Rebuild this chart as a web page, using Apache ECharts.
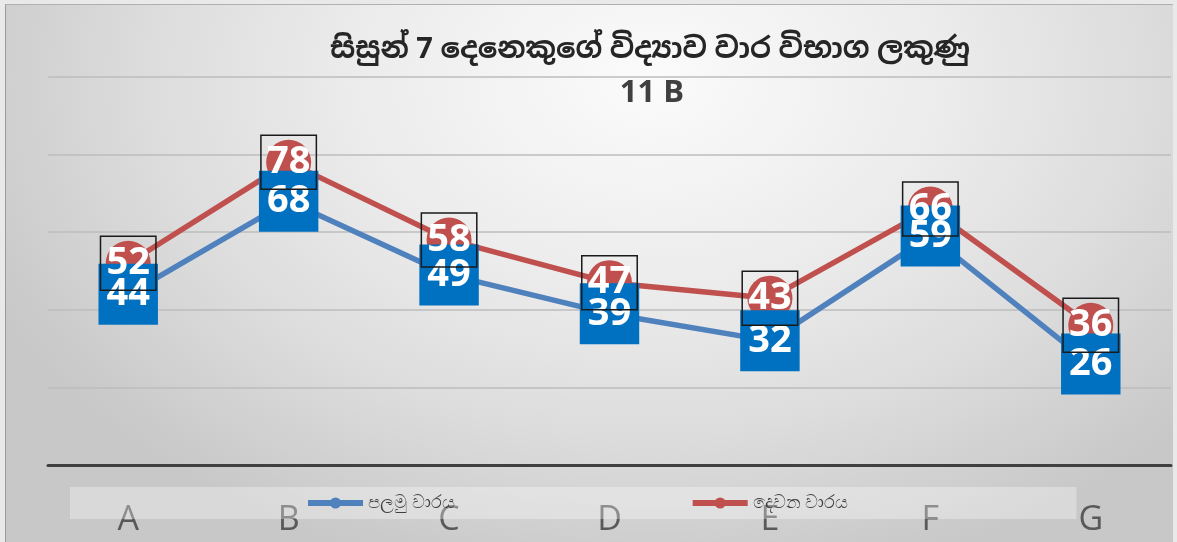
<!DOCTYPE html>
<html>
<head>
<meta charset="utf-8">
<title>සිසුන් 7 දෙනෙකුගේ විද්‍යාව වාර විභාග ලකුණු</title>
<script src="https://cdn.jsdelivr.net/npm/echarts@6/dist/echarts.min.js"></script>
<style>
  html, body { margin: 0; padding: 0; background: #e9e9e9; }
  #panel {
    position: absolute; left: 5px; top: 4px; width: 1167px; height: 538px;
    border-left: 1px solid #9a9a9a; border-top: 1px solid #b0b0b0;
    background: radial-gradient(ellipse 62% 95% at 55% 14%, #fbfbfb 0%, #ececec 40%, #dcdcdc 70%, #c8c8c8 100%);
  }
  #chart { position: absolute; left: 0; top: 0; width: 1177px; height: 542px; }
</style>
</head>
<body>
<div id="panel"></div>
<div id="chart"></div>
<script>
// Students A–G, science term test marks for class 11 B
const students = ['A', 'B', 'C', 'D', 'E', 'F', 'G'];
const term1 = [44, 68, 49, 39, 32, 59, 26];   // පලමු වාරය
const term2 = [52, 78, 58, 47, 43, 66, 36];   // දෙවන වාරය
const term1Name = 'පලමු වාරය';
const term2Name = 'දෙවන වාරය';
const titleText = 'සිසුන් 7 දෙනෙකුගේ විද්‍යාව වාර විභාග ලකුණු';
const subTitleText = '11 B';

const BLUE = '#4F81BD';
const BLUE_BOX = '#0070C0';
const RED = '#C0504D';
const labelFont = '"Open Sans", "Noto Sans", sans-serif';

const chart = echarts.init(document.getElementById('chart'), null, { renderer: 'canvas' });

chart.setOption({
  backgroundColor: 'transparent',
  animation: false,
  graphic: [
    {
      type: 'text', x: 650, y: 50, z: 10,
      style: {
        text: titleText, fill: '#262626',
        font: 'bold 29px "Noto Sans", "Noto Sans Sinhala", sans-serif',
        textAlign: 'center', textVerticalAlign: 'middle'
      }
    },
    {
      type: 'text', x: 652, y: 93, z: 10,
      style: {
        text: subTitleText, fill: '#404040',
        font: 'bold 31px "Open Sans", "Noto Sans", sans-serif',
        textAlign: 'center', textVerticalAlign: 'middle'
      }
    }
  ],
  legend: {
    data: [term1Name, term2Name],
    left: 70,
    top: 487,
    padding: [7, 228, 7, 235],
    itemGap: 235,
    itemWidth: 55,
    itemHeight: 14,
    lineStyle: { width: 6 },
    backgroundColor: 'rgba(255,255,255,0.32)',
    textStyle: { color: '#404040', fontSize: 18, fontFamily: '"Noto Sans", sans-serif' }
  },
  grid: { left: 48, right: 6, top: 77, bottom: 77, containLabel: false },
  xAxis: {
    type: 'category',
    data: students,
    boundaryGap: true,
    axisLine: { show: true, lineStyle: { color: '#404040', width: 3 } },
    axisTick: { show: false },
    axisLabel: { color: '#595959', fontSize: 34, fontFamily: labelFont, margin: 38 },
    splitLine: { show: false }
  },
  yAxis: {
    type: 'value',
    min: 0, max: 100, interval: 20,
    axisLine: { show: false },
    axisTick: { show: false },
    axisLabel: { show: false },
    splitLine: { show: true, lineStyle: { color: '#bdbdbd', width: 1.5 } }
  },
  series: [
    {
      // second term line and round markers
      name: term2Name,
      type: 'line',
      data: term2,
      z: 2,
      symbol: 'circle',
      symbolSize: 45,
      lineStyle: { color: RED, width: 5.5 },
      itemStyle: { color: RED },
      label: { show: false }
    },
    {
      // first term line with boxed value labels
      name: term1Name,
      type: 'line',
      data: term1,
      z: 3,
      symbol: 'circle',
      symbolSize: 8,
      lineStyle: { color: BLUE, width: 5.5 },
      itemStyle: { color: BLUE },
      label: {
        show: true,
        position: 'inside',
        color: '#ffffff',
        fontSize: 38,
        fontWeight: 'bold',
        fontFamily: labelFont,
        backgroundColor: BLUE_BOX,
        lineHeight: 55,
        padding: [6, 8, 0, 8]
      }
    },
    {
      // second term value labels, drawn above the blue boxes
      name: 'term2-labels',
      type: 'line',
      data: term2,
      z: 4,
      symbol: 'circle',
      symbolSize: 2,
      lineStyle: { width: 0, opacity: 0 },
      itemStyle: { color: 'transparent' },
      label: {
        show: true,
        position: 'inside',
        color: '#ffffff',
        fontSize: 38,
        fontWeight: 'bold',
        fontFamily: labelFont,
        borderColor: '#1a1a1a',
        borderWidth: 1.5,
        lineHeight: 50,
        padding: [4, 6, 0, 6]
      },
      emphasis: { disabled: true },
      silent: true
    }
  ]
});
</script>
</body>
</html>
